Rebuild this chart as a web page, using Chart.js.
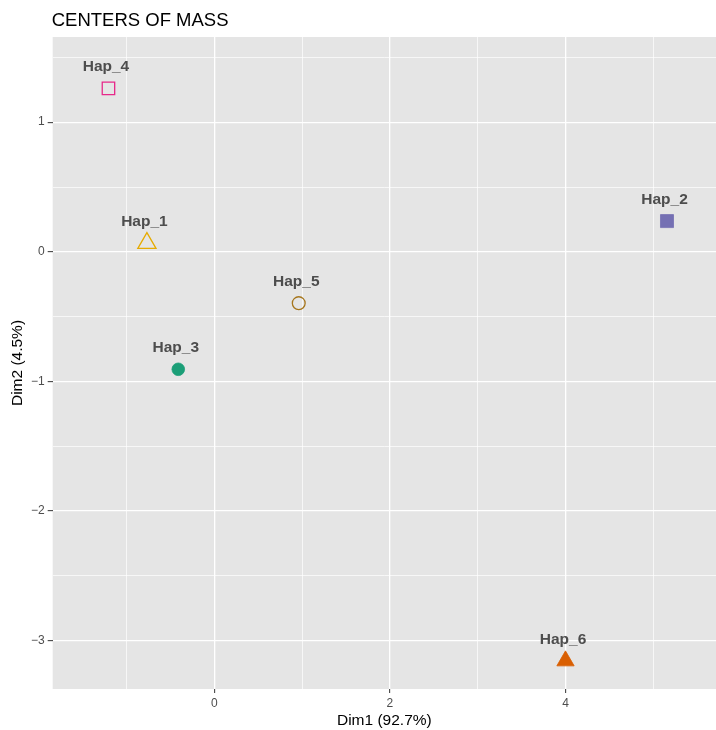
<!DOCTYPE html>
<html>
<head>
<meta charset="utf-8">
<script src="https://cdn.jsdelivr.net/npm/chart.js@4/dist/chart.umd.min.js"></script>
<style>
  html, body { margin: 0; padding: 0; background: #fff; overflow: hidden; }
  canvas { display: block; }
</style>
</head>
<body>
<canvas id="chart" width="716" height="730"></canvas>
<script>
// centers of mass
const haps = ["Hap_1", "Hap_2", "Hap_3", "Hap_4", "Hap_5", "Hap_6"]
const dim1 = [-0.767, 5.156, -0.41, -1.205, 0.962, 4.0]
const dim2 = [0.067, 0.237, -0.906, 1.261, -0.396, -3.155]

// Dark2 style colours and shapes per group
const colors = ["#E6AB02", "#7570B3", "#1B9E77", "#E7298A", "#A6761D", "#D95F02"]
const shapes = ["triangle", "rect", "circle", "rect", "circle", "triangle"]
const filled = [false, true, true, false, false, true]
const radii = [10.5, 9.2, 6.3, 8.8, 6.4, 10]

const font = "'Liberation Sans', Arial, Helvetica, sans-serif"
const textGrey = "#4D4D4D"

const minus = (v) => String(v).replace("-", "\u2212")

const datasets = haps.map((name, i) => ({
  label: name,
  data: [{ x: dim1[i], y: dim2[i] }],
  pointStyle: shapes[i],
  pointRadius: radii[i],
  pointHoverRadius: radii[i],
  borderColor: colors[i],
  backgroundColor: filled[i] ? colors[i] : "rgba(0,0,0,0)",
  borderWidth: filled[i] ? 0.8 : 1.3,
}))

const panel = {
  id: "panel",
  beforeDraw(chart) {
    const { ctx, chartArea: a } = chart
    ctx.save()
    ctx.fillStyle = "#E5E5E5"
    ctx.fillRect(a.left, a.top, a.right - a.left, a.bottom - a.top)
    ctx.restore()
  },
  afterDraw(chart) {
    const { ctx, chartArea: a } = chart
    ctx.save()
    ctx.fillStyle = "#000"
    ctx.font = "18.5px " + font
    ctx.textAlign = "left"
    ctx.textBaseline = "alphabetic"
    ctx.fillText("CENTERS OF MASS", a.left - 1, 26)
    ctx.restore()
  },
  afterDatasetsDraw(chart) {
    const { ctx } = chart
    ctx.save()
    ctx.fillStyle = textGrey
    ctx.font = "bold 15.5px " + font
    ctx.textAlign = "center"
    ctx.textBaseline = "middle"
    chart.data.datasets.forEach((ds, i) => {
      const pt = chart.getDatasetMeta(i).data[0]
      ctx.fillText(ds.label, pt.x - 2.5, pt.y - 21.5)
    })
    ctx.restore()
  },
}

const isMajorX = (v) => Math.abs(v % 2) < 1e-6
const isMajorY = (v) => Math.abs(v - Math.round(v)) < 1e-6

const chart = new Chart(document.getElementById("chart"), {
  type: "scatter",
  data: { datasets },
  options: {
    responsive: false,
    animation: false,
    devicePixelRatio: 1,
    layout: { autoPadding: false, padding: { top: 37, right: 0, left: 0, bottom: 0 } },
    plugins: {
      legend: { display: false },
      tooltip: { enabled: false },
      title: { display: false },
    },
    scales: {
      x: {
        min: -1.84,
        max: 5.714,
        border: { display: false },
        grid: {
          color: "#FFFFFF",
          lineWidth: (c) => (isMajorX(c.tick.value) ? 1.3 : 0.7),
          tickColor: (c) => (isMajorX(c.tick.value) ? "#333333" : "rgba(0,0,0,0)"),
          tickLength: 4,
          tickWidth: 1,
        },
        ticks: {
          stepSize: 1,
          includeBounds: false,
          autoSkip: false,
          maxRotation: 0,
          padding: 3,
          color: textGrey,
          font: { family: font, size: 12 },
          callback: (v) => (isMajorX(v) ? minus(v) : ""),
        },
        title: {
          display: true,
          text: "Dim1 (92.7%)",
          color: "#000",
          font: { family: font, size: 15.5 },
          padding: { top: 2, bottom: 0 },
        },
        afterFit(scale) {
          scale.height = 41
          scale.paddingLeft = 0
          scale.paddingRight = 0
        },
      },
      y: {
        min: -3.372,
        max: 1.657,
        border: { display: false },
        grid: {
          color: "#FFFFFF",
          lineWidth: (c) => (isMajorY(c.tick.value) ? 1.3 : 0.7),
          tickColor: (c) => (isMajorY(c.tick.value) ? "#333333" : "rgba(0,0,0,0)"),
          tickLength: 5,
          tickWidth: 1,
        },
        ticks: {
          stepSize: 0.5,
          includeBounds: false,
          autoSkip: false,
          padding: 3,
          color: textGrey,
          font: { family: font, size: 12 },
          callback: (v) => (isMajorY(v) ? minus(v) : ""),
        },
        title: {
          display: true,
          text: "Dim2 (4.5%)",
          color: "#000",
          font: { family: font, size: 15.5 },
          padding: { top: 8, bottom: 0 },
        },
        afterFit(scale) {
          scale.width = 52.7
          scale.paddingTop = 0
          scale.paddingBottom = 0
        },
      },
    },
  },
  plugins: [panel],
})
</script>
</body>
</html>
